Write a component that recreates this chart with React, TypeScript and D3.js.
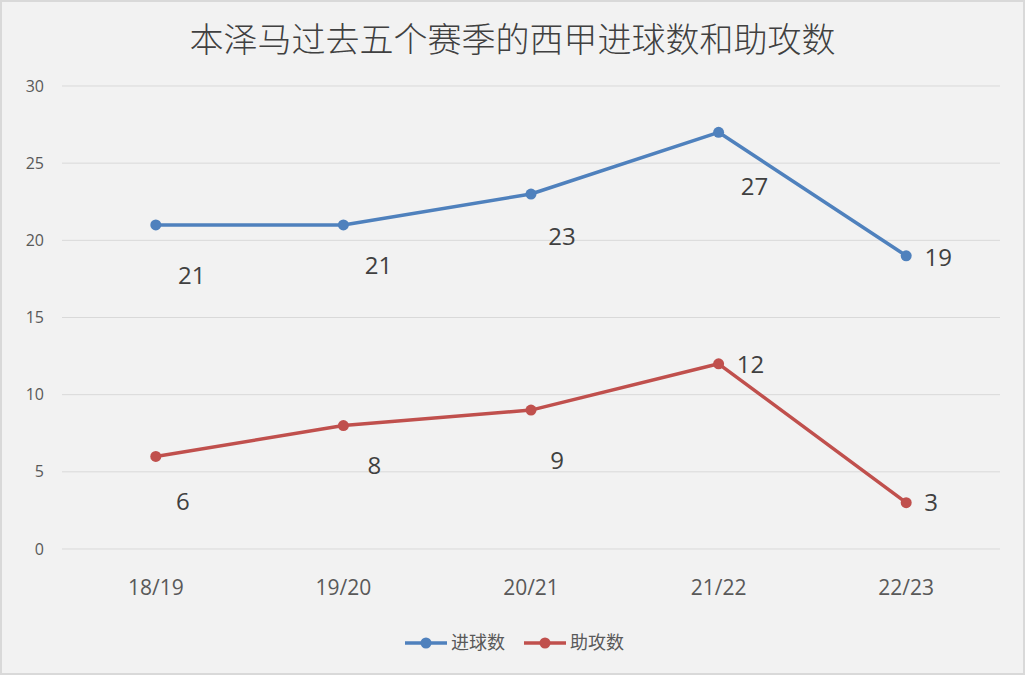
import React, { useEffect, useRef } from 'react';
import * as d3 from 'd3';

const seasons = ['18/19', '19/20', '20/21', '21/22', '22/23'];
const goals = [21, 21, 23, 27, 19];
const assists = [6, 8, 9, 12, 3];
const seriesNames = ['进球数', '助攻数'];
const yTicks = [0, 5, 10, 15, 20, 25, 30];

// label offsets from the point (px), as placed in the original
const goalLabelOffsets = [[36, 51], [35, 41], [31, 43], [36, 54], [32, 2]];
const assistLabelOffsets = [[27, 45], [31, 40], [26, 50], [32, 1], [25, 0]];

const W = 1025;
const H = 675;

export default function App() {
  const ref = useRef<SVGSVGElement>(null);

  useEffect(() => {
    if (!ref.current) return;
    const svg = d3.select(ref.current);
    svg.selectAll('*').remove();

    const margin = { top: 86, right: 25, bottom: 126, left: 62 };
    const w = W - margin.left - margin.right;
    const h = H - margin.top - margin.bottom;

    svg.append('rect')
      .attr('x', 1).attr('y', 1)
      .attr('width', W - 2).attr('height', H - 2)
      .attr('fill', '#f2f2f2')
      .attr('stroke', '#d9d9d9')
      .attr('stroke-width', 2);

    svg.append('text')
      .attr('x', W / 2)
      .attr('y', 40)
      .attr('dy', '0.35em')
      .attr('text-anchor', 'middle')
      .attr('font-family', '"Noto Sans CJK SC", sans-serif')
      .attr('font-weight', 300)
      .attr('font-size', 34)
      .attr('fill', '#404040')
      .text('本泽马过去五个赛季的西甲进球数和助攻数');

    const x = d3.scaleBand().domain(seasons).range([0, w]);
    const y = d3.scaleLinear().domain([0, 30]).range([h, 0]);

    const g = svg.append('g').attr('transform', `translate(${margin.left},${margin.top})`);

    // Gridlines
    g.selectAll('.grid')
      .data(yTicks)
      .join('line')
      .attr('x1', 0).attr('x2', w)
      .attr('y1', (d) => y(d)).attr('y2', (d) => y(d))
      .attr('stroke', '#d9d9d9')
      .attr('stroke-width', 1);

    // Y labels
    g.selectAll('.ylab')
      .data(yTicks)
      .join('text')
      .attr('x', -18)
      .attr('y', (d) => y(d))
      .attr('dy', '0.35em')
      .attr('text-anchor', 'end')
      .attr('font-family', '"Open Sans", "Noto Sans", sans-serif')
      .attr('font-size', 16)
      .attr('fill', '#595959')
      .text((d) => d);

    // X labels
    g.selectAll('.xlab')
      .data(seasons)
      .join('text')
      .attr('x', (d) => x(d)! + x.bandwidth() / 2)
      .attr('y', h + 39)
      .attr('dy', '0.35em')
      .attr('text-anchor', 'middle')
      .attr('font-family', '"Open Sans", "Noto Sans", sans-serif')
      .attr('font-size', 21)
      .attr('fill', '#595959')
      .text((d) => d);

    const cx = (i: number) => x(seasons[i])! + x.bandwidth() / 2;
    const line = d3.line<number>().x((_, i) => cx(i)).y((d) => y(d));

    const series = [
      { values: goals, color: '#4f81bd', offsets: goalLabelOffsets },
      { values: assists, color: '#c0504d', offsets: assistLabelOffsets },
    ];

    series.forEach((s) => {
      g.append('path')
        .datum(s.values)
        .attr('d', line)
        .attr('fill', 'none')
        .attr('stroke', s.color)
        .attr('stroke-width', 3.5)
        .attr('stroke-linejoin', 'round');
      g.selectAll(null)
        .data(s.values)
        .join('circle')
        .attr('cx', (_, i) => cx(i))
        .attr('cy', (d) => y(d))
        .attr('r', 5.5)
        .attr('fill', s.color);
      g.selectAll(null)
        .data(s.values)
        .join('text')
        .attr('x', (_, i) => cx(i) + s.offsets[i][0])
        .attr('y', (d, i) => y(d) + s.offsets[i][1])
        .attr('dy', '0.35em')
        .attr('text-anchor', 'middle')
        .attr('font-family', '"Open Sans", "Noto Sans", sans-serif')
        .attr('font-size', 24)
        .attr('fill', '#404040')
        .text((d) => d);
    });

    // Legend
    const legend = svg.append('g').attr('transform', 'translate(405,643)');
    const legendX = [0, 119];
    series.forEach((s, i) => {
      const lg = legend.append('g').attr('transform', `translate(${legendX[i]},0)`);
      lg.append('line')
        .attr('x1', 0).attr('x2', 42)
        .attr('y1', 0).attr('y2', 0)
        .attr('stroke', s.color)
        .attr('stroke-width', 3.5);
      lg.append('circle').attr('cx', 21).attr('cy', 0).attr('r', 5.5).attr('fill', s.color);
      lg.append('text')
        .attr('x', 46)
        .attr('y', 0)
        .attr('dy', '0.35em')
        .attr('font-family', '"Noto Sans CJK SC", sans-serif')
        .attr('font-size', 18)
        .attr('fill', '#595959')
        .text(seriesNames[i]);
    });
  }, []);

  return (
    <svg
      ref={ref}
      width={W}
      height={H}
      style={{ position: 'absolute', top: 0, left: 0, display: 'block' }}
    />
  );
}
